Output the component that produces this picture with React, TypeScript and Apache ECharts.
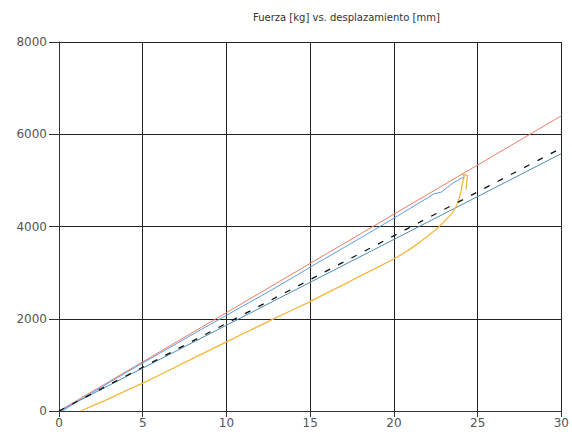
import React, { useEffect, useRef } from "react";
import * as echarts from "echarts";

const titleText = "Fuerza [kg] vs. desplazamiento [mm]";

const xTicks = [0, 5, 10, 15, 20, 25, 30];
const yTicks = [0, 2000, 4000, 6000, 8000];

// Straight reference lines (x, force)
const redLine: [number, number][] = [[0, 0], [30, 6400]];
const dashedLine: [number, number][] = [[0, 0], [30, 5700]];
const steelLine: [number, number][] = [[0, 0], [30, 5580]];

// Measured curve (light blue)
const blueCurve: [number, number][] = [
  [0, 0], [0.3, 20], [0.6, 90], [1, 190], [2, 400], [3, 615], [4, 830], [5, 1040],
  [6, 1250], [7, 1455], [8, 1665], [9, 1870], [10, 2075], [11, 2280], [12, 2480],
  [13, 2690], [14, 2900], [15, 3120], [16, 3330], [17, 3540], [18, 3750], [19, 3965],
  [20, 4180], [21, 4400], [22, 4620], [22.4, 4710], [22.8, 4740], [23.2, 4850],
  [23.6, 4960], [24, 5040], [24.2, 5070],
];

// Measured curve (orange)
const orangeCurve: [number, number][] = [
  [1.3, 0], [2, 110], [3, 270], [4, 440], [5, 605], [6, 780], [7, 960], [8, 1140],
  [9, 1320], [10, 1500], [11, 1680], [12, 1850], [13, 2030], [14, 2200], [15, 2370],
  [16, 2560], [17, 2740], [18, 2930], [19, 3110], [20, 3300], [20.5, 3400],
  [21, 3520], [21.5, 3650], [22, 3790], [22.5, 3930], [23, 4100], [23.5, 4300],
  [23.8, 4500], [24, 4750], [24.1, 4950], [24.2, 5100], [24.1, 5130], [24.4, 5110],
  [24.35, 4950], [24.3, 4800],
];

const FONT = "DejaVu Sans, Verdana, sans-serif";

export default function App() {
  const ref = useRef<HTMLDivElement>(null);
  useEffect(() => {
    if (!ref.current) return;
    const chart = echarts.init(ref.current, undefined, { renderer: "svg" });
    const lineStyle = { width: 1 };
    chart.setOption({
      animation: false,
      backgroundColor: "#ffffff",
      title: {
        text: titleText,
        left: 248,
        top: 7,
        textStyle: { fontSize: 10, fontWeight: "normal", color: "#333", fontFamily: FONT },
      },
      grid: { left: 59, right: 7, top: 42, bottom: 21, containLabel: false },
      xAxis: {
        type: "value",
        min: xTicks[0],
        max: xTicks[xTicks.length - 1],
        interval: 5,
        axisLine: { show: true, onZero: false, lineStyle: { color: "#333", width: 1 } },
        axisTick: { show: true, length: 6, lineStyle: { color: "#333" } },
        axisLabel: { color: "#555", fontSize: 12, margin: 6, fontFamily: FONT, formatter: (v: number) => String(v) },
        splitLine: { show: true, lineStyle: { color: "#222", width: 1 } },
      },
      yAxis: {
        type: "value",
        min: yTicks[0],
        max: yTicks[yTicks.length - 1],
        interval: 2000,
        axisLine: { show: true, onZero: false, lineStyle: { color: "#333", width: 1 } },
        axisTick: { show: true, length: 10, lineStyle: { color: "#333" } },
        axisLabel: { color: "#555", fontSize: 12, margin: 12, fontFamily: FONT, formatter: (v: number) => String(v) },
        splitLine: { show: true, lineStyle: { color: "#222", width: 1 } },
      },
      series: [
        { type: "line", data: redLine, showSymbol: false, lineStyle: { ...lineStyle, color: "#ee7b64" }, itemStyle: { color: "#ee7b64" } },
        { type: "line", data: steelLine, showSymbol: false, lineStyle: { ...lineStyle, color: "#4a8db4" }, itemStyle: { color: "#4a8db4" } },
        { type: "line", data: orangeCurve, showSymbol: false, lineStyle: { width: 1.3, color: "#f6b73c" }, itemStyle: { color: "#f6b73c" } },
        { type: "line", data: blueCurve, showSymbol: false, lineStyle: { ...lineStyle, color: "#5d9be6" }, itemStyle: { color: "#5d9be6" } },
        { type: "line", data: dashedLine, showSymbol: false, lineStyle: { width: 1.3, color: "#111", type: [6, 9] }, itemStyle: { color: "#111" } },
      ],
    });
    return () => chart.dispose();
  }, []);
  return <div ref={ref} style={{ width: 572, height: 432, position: "absolute", left: 0, top: 0 }} />;
}
